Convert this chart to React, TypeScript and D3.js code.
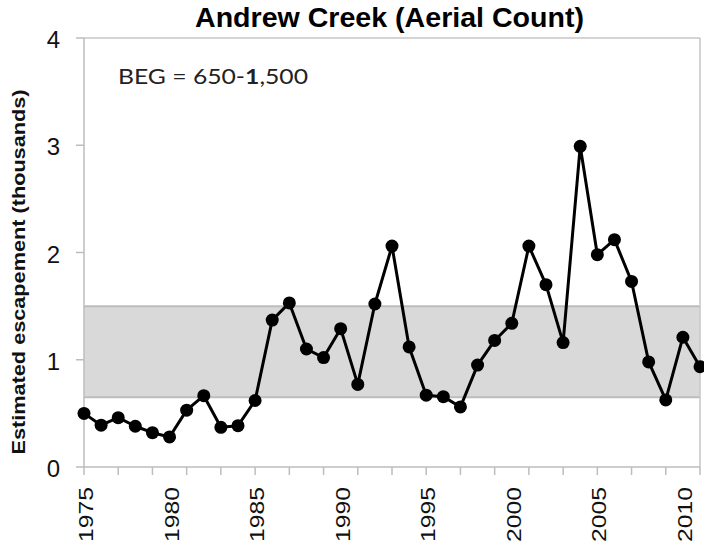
import React from "react";
import * as d3 from "d3";

const years: number[] = [
  1975, 1976, 1977, 1978, 1979, 1980, 1981, 1982, 1983, 1984, 1985, 1986, 1987,
  1988, 1989, 1990, 1991, 1992, 1993, 1994, 1995, 1996, 1997, 1998, 1999, 2000,
  2001, 2002, 2003, 2004, 2005, 2006, 2007, 2008, 2009, 2010, 2011,
];
const escapement: number[] = [
  0.5, 0.39, 0.46, 0.38, 0.32, 0.28, 0.53, 0.665, 0.37, 0.385, 0.62, 1.37, 1.53,
  1.1, 1.02, 1.29, 0.77, 1.52, 2.06, 1.12, 0.67, 0.656, 0.56, 0.95, 1.18, 1.34,
  2.06, 1.7, 1.16, 2.99, 1.98, 2.12, 1.73, 0.98, 0.625, 1.21, 0.935,
];
const yTicks: number[] = [0, 1, 2, 3, 4];
const xLabelYears: number[] = [1975, 1980, 1985, 1990, 1995, 2000, 2005, 2010];
const xTickYears: number[] = d3.range(1975, 2012, 2);
const begRange: [number, number] = [0.65, 1.5];

const W = 704;
const H = 544;
const left = 84;
const right = 700;
const top = 38;
const bottom = 467;
const font = "'Liberation Sans', Arial, sans-serif";

export default function App() {
  const x = d3.scaleLinear().domain([1975, 2011]).range([left, right]);
  const y = d3.scaleLinear().domain([0, 4]).range([bottom, top]);
  const line = d3
    .line<number>()
    .x((_, i) => x(years[i]))
    .y((d) => y(d));

  return (
    <svg
      width={W}
      height={H}
      style={{ position: "absolute", left: 0, top: 0, background: "#fff" }}
    >
      <rect x={0} y={0} width={W} height={H} fill="#fff" />
      {/* BEG band */}
      <rect
        x={left}
        y={y(begRange[1])}
        width={right - left}
        height={y(begRange[0]) - y(begRange[1])}
        fill="#d9d9d9"
      />
      <line x1={left} x2={right} y1={y(begRange[1])} y2={y(begRange[1])} stroke="#bdbdbd" strokeWidth={2} />
      <line x1={left} x2={right} y1={y(begRange[0])} y2={y(begRange[0])} stroke="#bdbdbd" strokeWidth={2} />
      {/* frame */}
      <line x1={left} x2={right} y1={top} y2={top} stroke="#c6c6c6" strokeWidth={1.5} />
      <line x1={right} x2={right} y1={top} y2={bottom} stroke="#c6c6c6" strokeWidth={1.5} />
      <line x1={left} x2={left} y1={top} y2={bottom} stroke="#bdbdbd" strokeWidth={1.5} />
      <line x1={left} x2={right} y1={bottom} y2={bottom} stroke="#bdbdbd" strokeWidth={1.5} />
      {/* y ticks */}
      {yTicks.map((t) => (
        <g key={"yt" + t}>
          <line x1={left - 8} x2={left} y1={y(t)} y2={y(t)} stroke="#bdbdbd" strokeWidth={1.5} />
          <text
            x={60}
            y={y(t) + 10}
            textAnchor="end"
            fontFamily={font}
            fontSize={24}
            fill="#111"
          >
            {t}
          </text>
        </g>
      ))}
      {/* x ticks */}
      {xTickYears.map((t) => (
        <line key={"xt" + t} x1={x(t)} x2={x(t)} y1={bottom} y2={bottom + 8} stroke="#bdbdbd" strokeWidth={1.5} />
      ))}
      {xLabelYears.map((t) => (
        <text
          key={"xl" + t}
          transform={`translate(${x(t) + 9},487) rotate(-90)`}
          textAnchor="end"
          fontFamily={font}
          fontSize={21}
          textLength={55}
          lengthAdjust="spacingAndGlyphs"
          fill="#111"
        >
          {t}
        </text>
      ))}
      {/* series */}
      <path d={line(escapement) || ""} fill="none" stroke="#000" strokeWidth={3} strokeLinejoin="round" />
      {escapement.map((v, i) => (
        <circle key={"p" + i} cx={x(years[i])} cy={y(v)} r={6.5} fill="#000" />
      ))}
      {/* title */}
      <text
        x={195}
        y={27}
        fontFamily={font}
        fontWeight="bold"
        fontSize={27}
        textLength={389}
        lengthAdjust="spacingAndGlyphs"
        fill="#000"
      >
        Andrew Creek (Aerial Count)
      </text>
      {/* y label */}
      <text
        transform={`translate(25,272) rotate(-90)`}
        textAnchor="middle"
        fontFamily={font}
        fontWeight="bold"
        fontSize={18}
        textLength={365}
        lengthAdjust="spacingAndGlyphs"
        fill="#111"
      >
        Estimated escapement (thousands)
      </text>
      {/* BEG annotation */}
      <text
        x={118}
        y={84}
        fontFamily="Lato, 'Open Sans', sans-serif"
        fontSize={21}
        textLength={190}
        lengthAdjust="spacingAndGlyphs"
        fill="#222"
      >
        BEG = 650-<tspan fontWeight="bold">1</tspan>,500
      </text>
    </svg>
  );
}
